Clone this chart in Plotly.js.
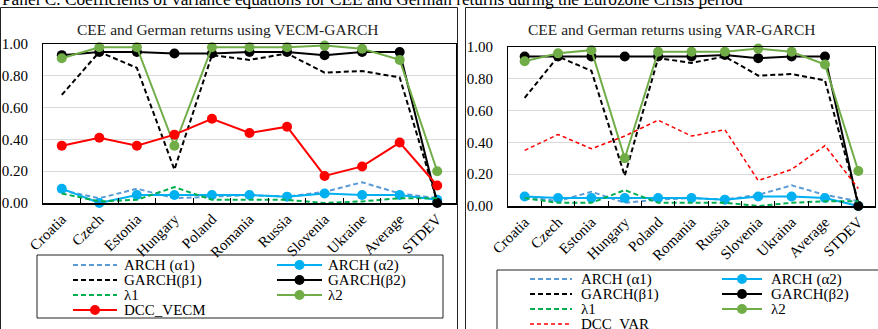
<!DOCTYPE html>
<html>
<head>
<meta charset="utf-8">
<script src="https://cdn.plot.ly/plotly-3.0.1.min.js"></script>
<style>html,body{margin:0;padding:0;background:#fff;font-family:'Liberation Serif',serif;}#chart{width:878px;height:329px;}</style>
</head>
<body>
<div id="chart"></div>
<script>
// ---------- data ----------
const categoriesVECM = ["Croatia","Czech","Estonia","Hungary","Poland","Romania","Russia","Slovenia","Ukraine","Average","STDEV"];
const categoriesVAR  = ["Croatia","Czech","Estonia","Hungary","Poland","Romania","Russia","Slovenia","Ukraina","Average","STDEV"];

const seriesNames = ["ARCH (α1)","ARCH (α2)","GARCH(β1)","GARCH(β2)","λ1","λ2"];
const dccNameVECM = "DCC_VECM";
const dccNameVAR  = "DCC_VAR";

// VECM-GARCH (left)
const vecmArch1  = [0.08, 0.03, 0.09, 0.03, 0.04, 0.05, 0.04, 0.07, 0.13, 0.06, 0.03];
const vecmArch2  = [0.09, 0.00, 0.05, 0.05, 0.05, 0.05, 0.04, 0.06, 0.05, 0.05, 0.02];
const vecmGarch1 = [0.68, 0.95, 0.85, 0.21, 0.93, 0.90, 0.94, 0.82, 0.83, 0.79, 0.01];
const vecmGarch2 = [0.93, 0.95, 0.95, 0.94, 0.94, 0.95, 0.95, 0.93, 0.95, 0.95, 0.00];
const vecmLambda1= [0.06, 0.01, 0.02, 0.10, 0.02, 0.02, 0.02, 0.00, 0.01, 0.03, 0.03];
const vecmLambda2= [0.91, 0.98, 0.98, 0.36, 0.98, 0.98, 0.98, 0.99, 0.97, 0.90, 0.20];
const vecmDCC    = [0.36, 0.41, 0.36, 0.43, 0.53, 0.44, 0.48, 0.17, 0.23, 0.38, 0.11];

// VAR-GARCH (right)
const varArch1  = [0.06, 0.03, 0.09, 0.02, 0.04, 0.05, 0.04, 0.07, 0.13, 0.07, 0.03];
const varArch2  = [0.06, 0.05, 0.05, 0.05, 0.05, 0.05, 0.04, 0.06, 0.06, 0.05, 0.00];
const varGarch1 = [0.68, 0.94, 0.85, 0.19, 0.93, 0.90, 0.94, 0.82, 0.83, 0.79, 0.02];
const varGarch2 = [0.94, 0.94, 0.94, 0.94, 0.94, 0.94, 0.95, 0.93, 0.94, 0.94, 0.00];
const varLambda1= [0.05, 0.02, 0.02, 0.10, 0.02, 0.02, 0.02, 0.00, 0.02, 0.03, 0.03];
const varLambda2= [0.91, 0.96, 0.98, 0.30, 0.97, 0.97, 0.97, 0.99, 0.97, 0.89, 0.22];
const varDCC    = [0.35, 0.45, 0.36, 0.44, 0.54, 0.44, 0.48, 0.16, 0.23, 0.38, 0.11];

const panelTitle = "Panel C. Coefficients of variance equations for CEE and German returns during the Eurozone Crisis period";
const titleVECM = "CEE and German returns using VECM-GARCH";
const titleVAR  = "CEE and German returns using VAR-GARCH";

// ---------- styles ----------
const W = 878, H = 329;
const FONT = "Liberation Serif";
const styles = [
  {color:"#5B9BD5", dash:"5px,3px", marker:false, width:2},
  {color:"#00B0F0", dash:"solid",   marker:true,  width:2},
  {color:"#000000", dash:"5px,3px", marker:false, width:2},
  {color:"#000000", dash:"solid",   marker:true,  width:2},
  {color:"#00B050", dash:"5px,3px", marker:false, width:2},
  {color:"#70AD47", dash:"solid",   marker:true,  width:2}
];
const dccStyleVECM = {color:"#FF0000", dash:"solid", marker:true, width:2};
const dccStyleVAR  = {color:"#FF0000", dash:"4px,3px", marker:false, width:1.5};

function mk(x, y, name, st, xa, ya) {
  return {
    type:"scatter", x:x, y:y, name:name, xaxis:xa, yaxis:ya,
    mode: st.marker ? "lines+markers" : "lines",
    line:{color:st.color, width:st.width, dash:st.dash},
    marker:{color:st.color, size:10, line:{width:0}},
    cliponaxis:false, showlegend:false
  };
}

const vecmSeries = [vecmArch1, vecmArch2, vecmGarch1, vecmGarch2, vecmLambda1, vecmLambda2];
const varSeries  = [varArch1, varArch2, varGarch1, varGarch2, varLambda1, varLambda2];

const traces = [];
vecmSeries.forEach((s,i)=>traces.push(mk(categoriesVECM, s, seriesNames[i], styles[i], "x", "y")));
traces.push(mk(categoriesVECM, vecmDCC, dccNameVECM, dccStyleVECM, "x", "y"));
varSeries.forEach((s,i)=>traces.push(mk(categoriesVAR, s, seriesNames[i], styles[i], "x2", "y2")));
traces.push(mk(categoriesVAR, varDCC, dccNameVAR, dccStyleVAR, "x2", "y2"));

// ---------- helpers for pixel positioning ----------
const px = v => v / W;
const py = v => 1 - v / H;

const shapes = [];
const annotations = [];

// panel frames
shapes.push({type:"rect", xref:"paper", yref:"paper", x0:px(0.5), x1:px(457.5), y0:py(340), y1:py(7.5), line:{color:"#222", width:1}});
shapes.push({type:"rect", xref:"paper", yref:"paper", x0:px(465.5), x1:px(890), y0:py(340), y1:py(7.5), line:{color:"#222", width:1}});

// titles
annotations.push({text:panelTitle, xref:"paper", yref:"paper", x:px(0), y:py(11), xanchor:"left", yanchor:"bottom", showarrow:false, font:{family:FONT, size:17.3, color:"#000"}});
annotations.push({text:titleVECM, xref:"paper", yref:"paper", x:px(228), y:py(30), xanchor:"center", yanchor:"middle", showarrow:false, font:{family:FONT, size:15.5, color:"#222"}});
annotations.push({text:titleVAR, xref:"paper", yref:"paper", x:px(671), y:py(30), xanchor:"center", yanchor:"middle", showarrow:false, font:{family:FONT, size:15.5, color:"#222"}});

// manual legends
function legend(box, cols, rows, names, sts) {
  shapes.push({type:"rect", xref:"paper", yref:"paper", x0:px(box[0]), x1:px(box[1]), y0:py(box[3]), y1:py(box[2]), line:{color:"#222", width:1}});
  names.forEach((n,i)=>{
    const c = cols[i % 2], r = rows[Math.floor(i / 2)], st = sts[i];
    shapes.push({type:"line", xref:"paper", yref:"paper", x0:px(c[0]), x1:px(c[1]), y0:py(r), y1:py(r), line:{color:st.color, width:st.width, dash:st.dash}});
    if (st.marker) {
      shapes.push({type:"circle", xref:"paper", yref:"paper", xsizemode:"pixel", ysizemode:"pixel", xanchor:px((c[0]+c[1])/2), yanchor:py(r), x0:-5, x1:5, y0:-5, y1:5, fillcolor:st.color, line:{width:0}});
    }
    annotations.push({text:n, xref:"paper", yref:"paper", x:px(c[2]), y:py(r), xanchor:"left", yanchor:"middle", showarrow:false, font:{family:FONT, size:15, color:"#000"}});
  });
}
legend([37, 443, 255, 318], [[73,117,122],[277,322,326]], [265,280,295,310],
       seriesNames.concat([dccNameVECM]), styles.concat([dccStyleVECM]));
legend([497, 890, 270, 345], [[530,572,579],[722,762,769]], [279,294,309,324],
       seriesNames.concat([dccNameVAR]), styles.concat([dccStyleVAR]));

function xax(dom, anchor) {
  return {domain:dom, anchor:anchor, type:"category", range:[-0.5,10.5], tickangle:-45,
    tickson:"boundaries", ticks:"inside", ticklen:5, tickcolor:"#000", tickwidth:1,
    showline:true, linecolor:"#000", linewidth:1.5, mirror:true, showgrid:false, zeroline:false,
    tickfont:{family:FONT, size:15, color:"#000"}, automargin:false, fixedrange:true};
}
function yax(dom, anchor) {
  return {domain:dom, anchor:anchor, range:[0,1], dtick:0.2, tick0:0, tickformat:".2f",
    showgrid:true, gridcolor:"#D9D9D9", gridwidth:1, showline:true, linecolor:"#000", linewidth:1, mirror:true,
    ticks:"", ticklabelstandoff:11, zeroline:false,
    tickfont:{family:FONT, size:15, color:"#000"}, automargin:false, fixedrange:true};
}

const layout = {
  width:W, height:H, margin:{l:0, r:0, t:0, b:0},
  paper_bgcolor:"#fff", plot_bgcolor:"#fff",
  font:{family:FONT, color:"#000", size:15},
  showlegend:false,
  xaxis: xax([px(43), px(456)], "y"),
  yaxis: yax([1 - 203/H, 1 - 44/H], "x"),
  xaxis2: xax([px(508), px(875)], "y2"),
  yaxis2: yax([1 - 206/H, 1 - 47/H], "x2"),
  shapes:shapes, annotations:annotations
};

Plotly.newPlot("chart", traces, layout, {displayModeBar:false, staticPlot:true});
</script>
</body>
</html>
